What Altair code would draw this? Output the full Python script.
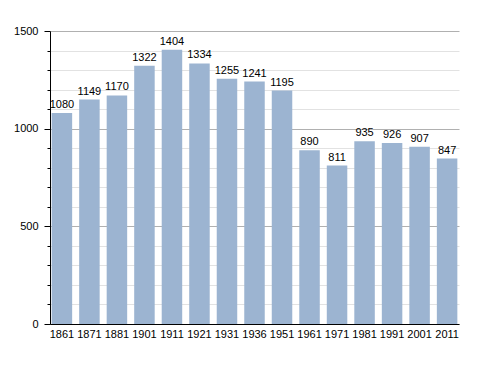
import altair as alt
import pandas as pd

years = ["1861", "1871", "1881", "1901", "1911", "1921", "1931", "1936", "1951",
         "1961", "1971", "1981", "1991", "2001", "2011"]
population = [1080, 1149, 1170, 1322, 1404, 1334, 1255, 1241, 1195,
              890, 811, 935, 926, 907, 847]
y_ticks = list(range(0, 1600, 100))

df = pd.DataFrame({"year": years, "pop": population})

FONT = "Liberation Sans"

x = alt.X("year:N", sort=years, title=None,
          scale=alt.Scale(paddingInner=0.255, paddingOuter=0.06),
          axis=alt.Axis(labelAngle=0, ticks=False, domainColor="black",
                        labelFontSize=11, labelColor="black", labelFont=FONT,
                        labelPadding=4))
y = alt.Y("pop:Q", title=None,
          scale=alt.Scale(domain=[0, 1500], nice=False),
          axis=alt.Axis(values=y_ticks,
                        labelExpr="datum.value % 500 === 0 ? datum.label : ''",
                        format="d", labelOverlap=False, labelFlush=False,
                        domainColor="black", tickColor="black",
                        tickSize={"condition": {"test": "datum.value % 500 === 0", "value": 6},
                                  "value": 3},
                        labelFontSize=11, labelColor="black", labelFont=FONT,
                        labelPadding=6,
                        gridColor={"condition": {"test": "datum.value % 500 === 0", "value": "#b0b0b0"},
                                   "value": "#e2e2e2"}))

base = alt.Chart(df).encode(x=x, y=y)
bars = base.mark_bar(color="#9cb4d1")
labels = base.mark_text(dy=-8, fontSize=11, font=FONT, color="black").encode(text="pop:Q")

chart = (bars + labels).properties(
    width=409, height=293,
    autosize=alt.AutoSizeParams(type="none"),
    padding={"left": 42, "top": 23, "right": 21, "bottom": 33},
).configure_view(stroke=None).configure_axis(domainWidth=1)

chart.save("out.html", embed_options={"renderer": "svg", "actions": False})
